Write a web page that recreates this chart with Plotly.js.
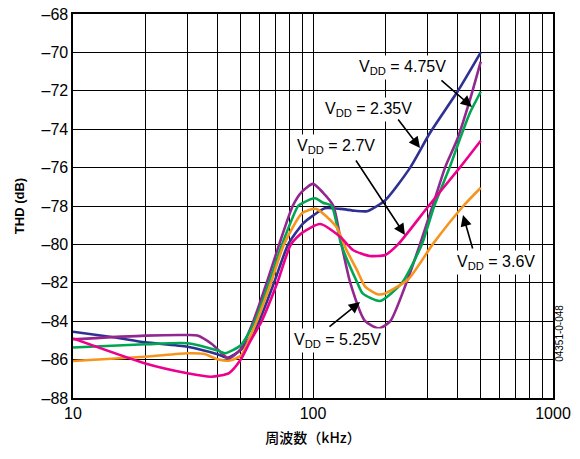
<!DOCTYPE html>
<html>
<head>
<meta charset="utf-8">
<script src="https://cdn.plot.ly/plotly-3.0.1.min.js"></script>
<style>
  html, body { margin: 0; padding: 0; background: #ffffff; }
  #chart { width: 580px; height: 459px; }
</style>
</head>
<body>
<div id="chart"></div>
<script>
// ---- Data (frequency in kHz, THD in dB) ----
const freqVdd235 = [10, 15, 20, 30, 40, 44, 50, 55, 59.6, 68.8, 78.8, 91, 100, 112, 130, 150, 168, 200, 254, 307, 402, 500];
const thdVdd235  = [-84.55, -84.85, -85.1, -85.33, -85.72, -85.9, -85.5, -84.8, -84, -82, -80, -78.9, -78.5, -78.12, -78.15, -78.25, -78.27, -77.7, -76.0, -74.2, -72.0, -70.0];

const freqVdd525 = [10, 20, 30, 33, 38, 44.5, 50, 56.4, 64.1, 72.3, 82.3, 90, 100, 110, 121.6, 131.5, 143, 165, 188.7, 210, 245, 279, 315, 355, 400, 450, 500];
const thdVdd525  = [-84.94, -84.75, -84.72, -84.75, -85.2, -85.93, -85.45, -84, -82, -80, -78, -77.25, -76.85, -77.3, -78, -80, -82, -84, -84.37, -84, -82, -80, -78, -76, -74.5, -72.5, -70.48];

const freqVdd475 = [10, 20, 30, 40, 43, 50, 57.3, 65.5, 74.3, 86.7, 90, 102, 110, 119.6, 131, 153, 161, 190, 235, 284, 320, 372, 408, 450, 500];
const thdVdd475  = [-85.37, -85.2, -85.15, -85.53, -85.67, -85.25, -84, -82, -80, -78, -77.86, -77.6, -77.83, -78, -80, -82, -82.55, -82.95, -82, -80, -78, -75.95, -74.56, -73.17, -72.05];

const freqVdd36 = [10, 20, 30, 35, 40, 45, 50, 58.3, 66.8, 75.7, 90, 103, 125, 138, 152, 165, 186, 200, 250, 315, 423, 500];
const thdVdd36  = [-86.07, -85.85, -85.67, -85.7, -85.98, -86.05, -85.8, -84, -82, -80, -78.38, -78.15, -79.08, -80.3, -81.3, -82.2, -82.6, -82.55, -81.8, -80, -78, -77.05];

const freqVdd27 = [10, 20, 30, 37.6, 44.7, 50, 55, 61.1, 71, 80.9, 90, 107, 129.6, 146.7, 172, 200, 226, 303, 409, 500];
const thdVdd27  = [-84.9, -86.2, -86.71, -86.89, -86.7, -86.0, -85.0, -84, -82, -80, -79.4, -78.94, -79.6, -80.29, -80.6, -80.55, -80, -78, -76, -74.6];

// ---- Tick labels ----
const xTickVals = [10, 20, 30, 40, 50, 60, 70, 80, 90, 100, 200, 300, 400, 500, 600, 700, 800, 900, 1000];
const xTickText = ['10', '', '', '', '', '', '', '', '', '100', '', '', '', '', '', '', '', '', '1000'];
const yTickVals = [-88, -86, -84, -82, -80, -78, -76, -74, -72, -70, -68];
const yTickText = ['–88', '–86', '–84', '–82', '–80', '–78', '–76', '–74', '–72', '–70', '–68'];

const seriesNames = ['V_DD = 2.35V', 'V_DD = 5.25V', 'V_DD = 4.75V', 'V_DD = 3.6V', 'V_DD = 2.7V'];

// ---- Styles ----
const colors = ['#2e3192', '#92278f', '#00a651', '#f7941d', '#ec008c'];
const FONT = 'Liberation Sans, Arial, Helvetica, sans-serif';

const seriesX = [freqVdd235, freqVdd525, freqVdd475, freqVdd36, freqVdd27];
const seriesY = [thdVdd235, thdVdd525, thdVdd475, thdVdd36, thdVdd27];

const traces = seriesX.map((xs, i) => ({
  x: xs, y: seriesY[i], type: 'scatter', mode: 'lines', name: seriesNames[i],
  line: { color: colors[i], width: 2.6, shape: 'spline', smoothing: 0.6 },
  hoverinfo: 'skip'
}));

const L = Math.log10;
function label(f, db, txt) {
  return { x: L(f), y: db, xref: 'x', yref: 'y', text: txt, showarrow: false,
    font: { family: FONT, size: 16, color: '#000', weight: 500 }, bgcolor: '#ffffff', borderpad: 2 };
}
function arrow(fTail, dbTail, fTip, dbTip) {
  return { x: L(fTip), y: dbTip, ax: L(fTail), ay: dbTail, xref: 'x', yref: 'y', axref: 'x', ayref: 'y',
    text: '', showarrow: true, arrowhead: 2, arrowsize: 1.4, arrowwidth: 1.6, arrowcolor: '#000' };
}

const annotations = [
  label(235, -70.81, 'V<sub>DD</sub> = 4.75V'),
  label(171, -72.95, 'V<sub>DD</sub> = 2.35V'),
  label(125, -74.875, 'V<sub>DD</sub> = 2.7V'),
  label(579, -80.92, 'V<sub>DD</sub> = 3.6V'),
  label(127, -84.98, 'V<sub>DD</sub> = 5.25V'),
  arrow(Math.pow(10, 2.529), -71.39, Math.pow(10, 2.6625), -72.84),
  arrow(Math.pow(10, 2.35), -73.42, Math.pow(10, 2.446), -74.98),
  arrow(Math.pow(10, 2.175), -75.55, Math.pow(10, 2.383), -79.51),
  arrow(Math.pow(10, 2.667), -80.29, Math.pow(10, 2.625), -78.47),
  arrow(Math.pow(10, 2.0625), -84.35, Math.pow(10, 2.196), -83.0),
  { xref: 'paper', yref: 'paper', x: 1.03, y: 0.09, text: '04351-0-048', showarrow: false,
    textangle: -90, font: { family: FONT, size: 10, color: '#000' } }
];

const layout = {
  width: 580, height: 459,
  margin: { l: 73, r: 27, t: 14, b: 61 },
  paper_bgcolor: '#ffffff', plot_bgcolor: '#ffffff',
  showlegend: false,
  xaxis: {
    type: 'log', range: [1, 3],
    tickvals: xTickVals, ticktext: xTickText, ticks: '',
    showgrid: true, gridcolor: '#000', gridwidth: 1,
    showline: true, mirror: true, linecolor: '#000', linewidth: 1.6,
    zeroline: false,
    tickfont: { family: FONT, size: 16, color: '#000', weight: 500 },
    title: { text: '周波数（kHz）', font: { family: 'Noto Sans CJK JP, sans-serif', size: 14, color: '#000', weight: 500 }, standoff: 12 }
  },
  yaxis: {
    range: [-88, -68],
    tickvals: yTickVals, ticktext: yTickText, ticks: '',
    showgrid: true, gridcolor: '#000', gridwidth: 1,
    showline: true, mirror: true, linecolor: '#000', linewidth: 1.6,
    zeroline: false,
    tickfont: { family: FONT, size: 16, color: '#000', weight: 500 },
    title: { text: 'THD (dB)', font: { family: FONT, size: 13, color: '#000', weight: 'bold' }, standoff: 14 }
  },
  annotations: annotations
};

Plotly.newPlot('chart', traces, layout, { staticPlot: true, displayModeBar: false });
</script>
</body>
</html>
